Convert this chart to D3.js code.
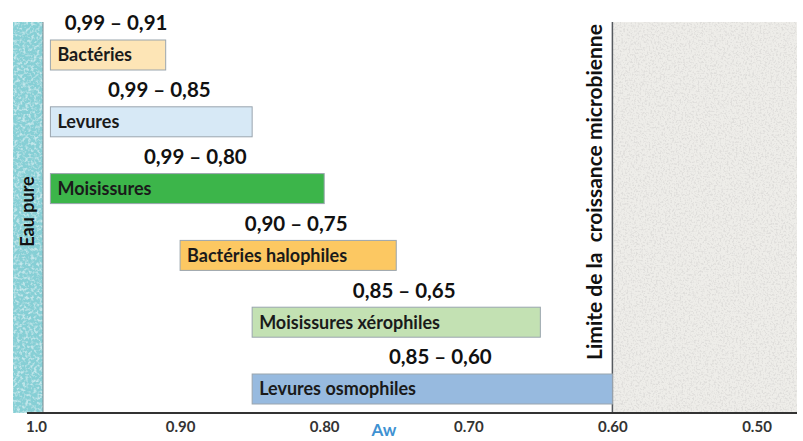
<!DOCTYPE html>
<html><head><meta charset="utf-8">
<script src="https://cdn.jsdelivr.net/npm/d3@7/dist/d3.min.js"></script>
<style>body{margin:0;background:#fff}svg{display:block}</style>
</head><body>
<svg id="c" width="803" height="441"></svg>
<script>
const categories = ["Bactéries","Levures","Moisissures","Bactéries halophiles","Moisissures xérophiles","Levures osmophiles"];
const awMax = [0.99,0.99,0.99,0.90,0.85,0.85];
const awMin = [0.91,0.85,0.80,0.75,0.65,0.60];
const colors = ["#fde5b6","#d7e9f6","#3cb54a","#fcc862","#c3e1b3","#97badf"];
const tickValues = [1.0,0.9,0.8,0.7,0.6,0.5];
const tickLabels = ["1.0","0.90","0.80","0.70","0.60","0.50"];
const limitAw = 0.60;
const pureAw = 1.0;

const svg = d3.select("#c");
const F = "Lato, 'Open Sans', sans-serif";
const x = d3.scaleLinear().domain([1.0,0.5]).range([36,756.5]);
const y = d3.scalePoint().domain(categories).range([40,374]);
const barH = 30, plotTop = 22, axisY = 413;

const defs = svg.append("defs");
function noise(id, seed, rgb, k, off, freq){
  const f = defs.append("filter").attr("id",id).attr("x",0).attr("y",0).attr("width",1).attr("height",1);
  f.append("feTurbulence").attr("type","fractalNoise").attr("baseFrequency",freq).attr("numOctaves",2).attr("seed",seed).attr("result","n");
  f.append("feColorMatrix").attr("in","n").attr("type","matrix")
   .attr("values",`0 0 0 0 ${rgb[0]} 0 0 0 0 ${rgb[1]} 0 0 0 0 ${rgb[2]} ${k} 0 0 0 ${off}`).attr("result","d");
  f.append("feComposite").attr("in","d").attr("in2","SourceGraphic").attr("operator","in").attr("result","d2");
  const m = f.append("feMerge");
  m.append("feMergeNode").attr("in","SourceGraphic");
  m.append("feMergeNode").attr("in","d2");
}
noise("gn",3,[0.74,0.73,0.71],4.0,-1.85,0.55);
noise("tn",7,[0.55,0.80,0.83],3.5,-1.6,0.35);

// Eau pure column
svg.append("rect").attr("x",13).attr("y",plotTop).attr("width",x(pureAw)+7-13).attr("height",axisY-plotTop)
  .attr("fill","#86cfd5").attr("filter","url(#tn)");
svg.append("line").attr("x1",x(pureAw)+7).attr("x2",x(pureAw)+7).attr("y1",plotTop).attr("y2",axisY)
  .attr("stroke","#7a8a90").attr("stroke-width",1);
svg.append("text").attr("transform",`translate(${(13+x(pureAw)+7)/2+6},${(plotTop+axisY)/2-6}) rotate(-90)`)
  .attr("text-anchor","middle").attr("font-family",F).attr("font-weight",700).attr("font-size",18)
  .attr("fill","#111").text("Eau pure");

// Limit region
svg.append("rect").attr("x",x(limitAw)).attr("y",plotTop).attr("width",797-x(limitAw)).attr("height",axisY-plotTop)
  .attr("fill","#eeede9").attr("filter","url(#gn)");
svg.append("line").attr("x1",x(limitAw)).attr("x2",x(limitAw)).attr("y1",plotTop).attr("y2",axisY)
  .attr("stroke","#55595e").attr("stroke-width",1.5);
svg.append("text").attr("transform",`translate(${x(limitAw)-10},${192}) rotate(-90)`)
  .attr("text-anchor","middle").attr("font-family",F).attr("font-weight",700).attr("font-size",21)
  .attr("fill","#111").text("Limite de la\u00a0\u00a0croissance microbienne");

// bars
const fmt = v => d3.format(".2f")(v).replace(".",",");
const g = svg.append("g");
categories.forEach((c,i)=>{
  const x0 = x(awMax[i]), x1 = x(awMin[i]);
  g.append("rect").attr("x",x0).attr("y",y(c)).attr("width",x1-x0).attr("height",barH)
    .attr("fill",colors[i]).attr("stroke","#9aa5ae").attr("stroke-width",1);
  g.append("text").attr("x",x0+7).attr("y",y(c)+barH/2).attr("dy","0.36em")
    .attr("font-family",F).attr("font-weight",700).attr("font-size",18).attr("fill","#1a1a1a").text(c);
  g.append("text").attr("x",(x0+x1)/2+8).attr("y",y(c)-17).attr("dy","0.36em").attr("text-anchor","middle")
    .attr("font-family",F).attr("font-weight",700).attr("font-size",20.5).attr("fill","#111")
    .text(fmt(awMax[i])+" \u2013 "+fmt(awMin[i]));
});

// axis
const ax = svg.append("g").attr("transform",`translate(0,${axisY})`)
  .call(d3.axisBottom(x).tickValues(tickValues).tickSize(0).tickPadding(8).tickFormat((d,i)=>tickLabels[i]));
ax.select(".domain").remove();
ax.selectAll("text").attr("font-family",F).attr("font-weight",700).attr("font-size",15).attr("fill","#333");
svg.append("line").attr("x1",27).attr("x2",797).attr("y1",axisY).attr("y2",axisY)
  .attr("stroke","#333").attr("stroke-width",2);
svg.append("text").attr("x",384).attr("y",436).attr("text-anchor","middle")
  .attr("font-family",F).attr("font-weight",700).attr("font-size",17).attr("fill","#3f92d2").text("Aw");
</script>
</body></html>
